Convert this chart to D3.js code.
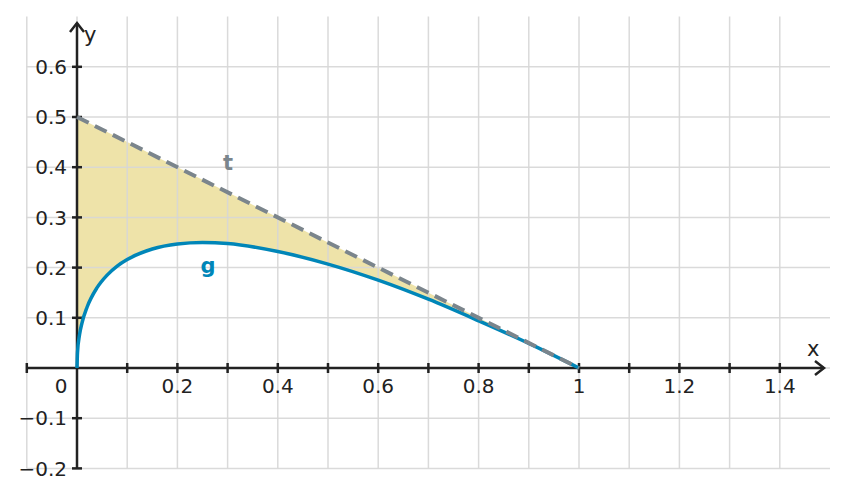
<!DOCTYPE html>
<html>
<head>
<meta charset="utf-8">
<script src="https://cdn.jsdelivr.net/npm/d3@7"></script>
<style>
  body { margin: 0; background: #fff; }
  text { font-family: "DejaVu Sans", sans-serif; fill: #222; }
</style>
</head>
<body>
<div id="chart"></div>
<script>
// curve g, values
var gX = [0, 0.001, 0.005, 0.01, 0.02, 0.04, 0.06, 0.08, 0.1, 0.15, 0.2, 0.25, 0.3, 0.4, 0.5, 0.6, 0.7, 0.8, 0.9, 1.0];
var gY = [0, 0.031, 0.066, 0.09, 0.121, 0.16, 0.185, 0.203, 0.216, 0.237, 0.247, 0.25, 0.248, 0.232, 0.207, 0.175, 0.137, 0.094, 0.049, 0];

// tangent t (end points)
var tX = [0, 1];
var tY = [0.5, 0];

// tick labels
var xTicks = [0.2, 0.4, 0.6, 0.8, 1, 1.2, 1.4];
var yTicks = [-0.2, -0.1, 0.1, 0.2, 0.3, 0.4, 0.5, 0.6];
var xMinor = [-0.1, 0.1, 0.3, 0.5, 0.7, 0.9, 1.1, 1.3];

var svgWidth = 847;
var svgHeight = 497;

var x = d3.scaleLinear().domain([0, 1]).range([77, 579]);
var y = d3.scaleLinear().domain([0, 1]).range([368, -134]);

var svg = d3.select("#chart")
  .append("svg")
  .attr("width", svgWidth)
  .attr("height", svgHeight);

// tangent as a scale so the fill follows it
var tScale = d3.scaleLinear().domain(tX).range(tY);
var gData = gX.map((d, i) => ({x: d, y: gY[i]}));

// fill between g and t
svg.append("path")
  .datum(gData)
  .attr("fill", "#e8d98c")
  .attr("fill-opacity", 0.75)
  .attr("d", d3.area()
    .x(d => x(d.x))
    .y0(d => y(d.y))
    .y1(d => y(tScale(d.x)))
    .curve(d3.curveMonotoneX));

// grid
var gridX = d3.range(-1, 15).map(d => d / 10);
var gridY = d3.range(-2, 7).map(d => d / 10);
svg.append("g").selectAll("line")
  .data(gridX)
  .enter()
  .append("line")
  .attr("x1", d => x(d)).attr("x2", d => x(d))
  .attr("y1", y(0.7)).attr("y2", y(-0.2))
  .attr("stroke", "#d6d6d6")
  .attr("stroke-opacity", 0.9)
  .attr("stroke-width", 1.5);
svg.append("g").selectAll("line")
  .data(gridY)
  .enter()
  .append("line")
  .attr("y1", d => y(d)).attr("y2", d => y(d))
  .attr("x1", x(-0.1)).attr("x2", x(1.5))
  .attr("stroke", "#d6d6d6")
  .attr("stroke-opacity", 0.9)
  .attr("stroke-width", 1.5);

// axes
var axisColor = "#222";
svg.append("line")
  .attr("x1", x(-0.1)).attr("x2", 824)
  .attr("y1", y(0)).attr("y2", y(0))
  .attr("stroke", axisColor).attr("stroke-width", 2.5);
svg.append("line")
  .attr("x1", x(0)).attr("x2", x(0))
  .attr("y1", y(-0.2)).attr("y2", 23)
  .attr("stroke", axisColor).attr("stroke-width", 2.5);

// arrow heads
svg.append("path")
  .attr("d", `M${815},${y(0) - 7} L${824},${y(0)} L${815},${y(0) + 7}`)
  .attr("fill", "none").attr("stroke", axisColor).attr("stroke-width", 2.5);
svg.append("path")
  .attr("d", `M${x(0) - 7},${32} L${x(0)},${23} L${x(0) + 7},${32}`)
  .attr("fill", "none").attr("stroke", axisColor).attr("stroke-width", 2.5);

// x ticks
svg.append("g").selectAll("line")
  .data(xTicks.concat(xMinor))
  .enter()
  .append("line")
  .attr("x1", d => x(d)).attr("x2", d => x(d))
  .attr("y1", y(0) - 5).attr("y2", y(0) + 5)
  .attr("stroke", axisColor).attr("stroke-width", 2.5);

svg.append("g").selectAll("text")
  .data(xTicks)
  .enter()
  .append("text")
  .attr("x", d => x(d))
  .attr("y", 393)
  .attr("text-anchor", "middle")
  .style("font-size", "20px")
  .text(d => d3.format("")(d));

svg.append("text")
  .attr("x", 61).attr("y", 393)
  .attr("text-anchor", "middle")
  .style("font-size", "20px")
  .text("0");

// y ticks
svg.append("g").selectAll("line")
  .data(yTicks)
  .enter()
  .append("line")
  .attr("y1", d => y(d)).attr("y2", d => y(d))
  .attr("x1", x(0) - 5).attr("x2", x(0) + 5)
  .attr("stroke", axisColor).attr("stroke-width", 2.5);

svg.append("g").selectAll("text")
  .data(yTicks)
  .enter()
  .append("text")
  .attr("x", 67)
  .attr("y", d => y(d))
  .attr("dy", "0.36em")
  .attr("text-anchor", "end")
  .style("font-size", "20px")
  .text(d => d3.format(".1f")(d).replace("-", "\u2212"));

// axis names
svg.append("text").attr("x", 84).attr("y", 42).style("font-size", "21px").text("y");
svg.append("text").attr("x", 807).attr("y", 356).style("font-size", "21px").text("x");

// curve g
svg.append("path")
  .datum(gData)
  .attr("fill", "none")
  .attr("stroke", "#0086b8")
  .attr("stroke-width", 3.5)
  .attr("d", d3.line()
    .x(d => x(d.x))
    .y(d => y(d.y))
    .curve(d3.curveMonotoneX));

// tangent t
svg.append("line")
  .attr("x1", x(tX[0])).attr("y1", y(tY[0]))
  .attr("x2", x(tX[1])).attr("y2", y(tY[1]))
  .attr("stroke", "#7b858c")
  .attr("stroke-width", 4)
  .attr("stroke-dasharray", "13,7");

// labels
svg.append("text")
  .attr("x", 228).attr("y", 170)
  .attr("text-anchor", "middle")
  .style("font-size", "21px").style("font-weight", "bold")
  .style("fill", "#7b858c")
  .text("t");
svg.append("text")
  .attr("x", 208).attr("y", 273)
  .attr("text-anchor", "middle")
  .style("font-size", "21px").style("font-weight", "bold")
  .style("fill", "#0086b8")
  .text("g");
</script>
</body>
</html>
